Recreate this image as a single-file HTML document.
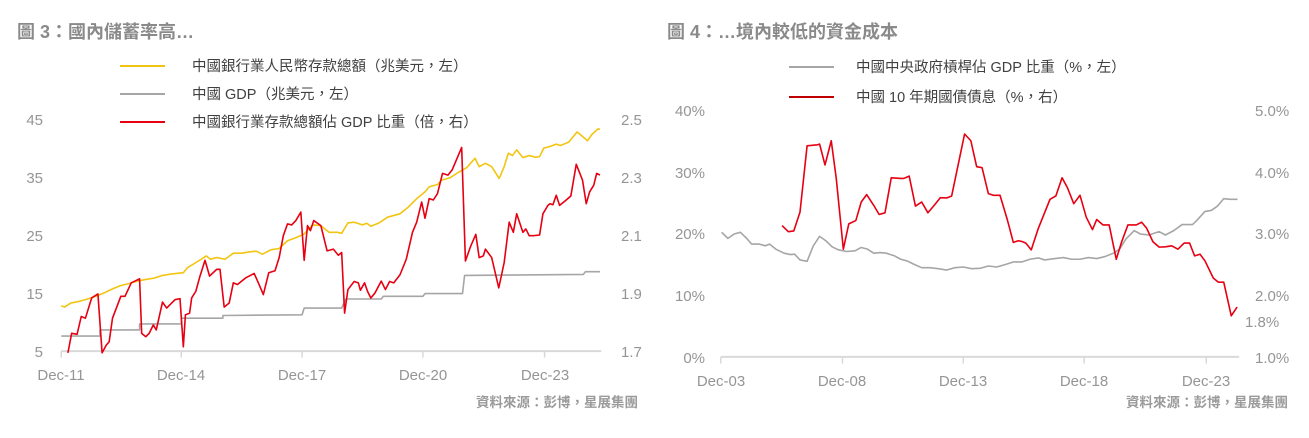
<!DOCTYPE html>
<html><head><meta charset="utf-8"><style>
html,body{margin:0;padding:0;background:#fff;}
svg{display:block;font-family:"Liberation Sans","Noto Sans CJK TC",sans-serif;}
.t{font-size:18px;font-weight:bold;fill:#8a8a8a;}
.lg{font-size:14.5px;fill:#404040;}
.ax{font-size:15px;fill:#959595;}
.src{font-size:13.5px;fill:#9a9a9a;font-weight:bold;}
</style></head><body>
<svg width="1309" height="438" viewBox="0 0 1309 438">
<rect width="1309" height="438" fill="#fff"/>
<!-- LEFT CHART -->
<text class="t" x="17" y="38">圖 3：國內儲蓄率高…</text>
<line x1="120" y1="66" x2="165" y2="66" stroke="#f2c511" stroke-width="2"/>
<text class="lg" x="192" y="71">中國銀行業人民幣存款總額（兆美元，左）</text>
<line x1="120" y1="94" x2="165" y2="94" stroke="#a6a6a6" stroke-width="2"/>
<text class="lg" x="192" y="99">中國 GDP（兆美元，左）</text>
<line x1="120" y1="122" x2="165" y2="122" stroke="#e60012" stroke-width="2"/>
<text class="lg" x="192" y="127">中國銀行業存款總額佔 GDP 比重（倍，右）</text>
<g class="ax" text-anchor="end">
<text x="43" y="125">45</text><text x="43" y="183">35</text><text x="43" y="241">25</text><text x="43" y="299">15</text><text x="43" y="357">5</text>
</g>
<g class="ax">
<text x="621" y="125">2.5</text><text x="621" y="183">2.3</text><text x="621" y="241">2.1</text><text x="621" y="299">1.9</text><text x="621" y="357">1.7</text>
</g>
<g class="ax" text-anchor="middle">
<text x="61" y="380">Dec-11</text><text x="181" y="380">Dec-14</text><text x="302" y="380">Dec-17</text><text x="423" y="380">Dec-20</text><text x="545" y="380">Dec-23</text>
</g>
<text class="src" x="638" y="407" text-anchor="end">資料來源：彭博，星展集團</text>
<g transform="scale(0.41667,0.3367)" fill="none" stroke-linejoin="round">
<polyline vector-effect="non-scaling-stroke" stroke="#d9d9d9" stroke-width="2" points="147,1043 1443,1043"/>
<path vector-effect="non-scaling-stroke" stroke="#d9d9d9" stroke-width="1.5" d="M147,1043V1062M435,1043V1062M725,1043V1062M1015,1043V1062M1307,1043V1062"/>
<polyline vector-effect="non-scaling-stroke" stroke="#f2c511" stroke-width="1.6" points="147,908 155,912 170,900 190,895 210,888 230,880 250,870 270,858 290,848 310,842 330,835 350,830 370,826 390,818 410,814 440,810 450,795 470,780 495,760 505,770 520,765 540,770 560,752 580,752 600,748 615,746 630,755 650,742 670,738 690,715 710,706 730,695 750,668 770,670 790,690 810,690 820,693 835,662 850,660 870,668 880,663 890,672 910,662 930,645 960,635 980,615 1000,590 1020,570 1030,555 1050,548 1060,535 1080,528 1100,512 1120,498 1140,470 1150,495 1165,485 1180,495 1198,530 1210,495 1220,455 1230,462 1240,445 1255,468 1270,462 1285,467 1295,465 1305,440 1320,435 1335,428 1345,432 1365,422 1385,392 1395,402 1410,418 1420,400 1435,383 1440,384"/>
<polyline vector-effect="non-scaling-stroke" stroke="#a6a6a6" stroke-width="1.6" points="147,998 240,998 240,980 335,980 335,962 435,962 435,945 535,945 535,937 725,935 730,915 820,915 830,888 915,888 920,880 1015,880 1020,872 1110,872 1115,818 1400,815 1405,807 1440,807"/>
<polyline vector-effect="non-scaling-stroke" stroke="#e60012" stroke-width="1.6" points="163,1048 172,990 185,993 195,940 205,945 220,885 235,873 245,1048 255,1025 262,1015 270,945 290,880 300,880 315,840 335,828 340,990 350,1000 358,990 368,965 375,980 390,897 400,915 420,890 432,887 440,1030 445,935 455,930 460,885 470,865 480,820 492,773 503,820 520,800 528,800 538,912 550,900 560,840 570,845 590,825 610,812 620,840 632,875 645,810 660,804 670,765 680,700 690,665 700,668 710,655 722,630 730,773 738,670 745,685 753,655 770,670 785,745 800,740 812,758 820,750 827,930 835,860 850,836 860,840 865,862 875,840 882,865 890,885 900,870 915,835 925,860 935,836 945,840 960,816 975,770 990,690 1000,660 1012,600 1020,648 1030,590 1040,594 1050,575 1062,515 1075,520 1085,505 1108,438 1117,775 1130,730 1142,696 1150,765 1160,760 1165,740 1180,765 1197,855 1210,780 1222,660 1232,690 1240,635 1255,690 1262,680 1270,700 1280,700 1295,698 1303,635 1315,610 1320,605 1327,608 1335,580 1343,610 1355,598 1370,582 1383,488 1398,535 1407,605 1415,570 1425,550 1432,515 1440,520"/>
</g>
<!-- RIGHT CHART -->
<text class="t" x="667" y="38">圖 4：…境內較低的資金成本</text>
<line x1="789" y1="67" x2="834" y2="67" stroke="#a6a6a6" stroke-width="2"/>
<text class="lg" x="856" y="72">中國中央政府槓桿佔 GDP 比重（%，左）</text>
<line x1="789" y1="97" x2="834" y2="97" stroke="#c00000" stroke-width="2"/>
<text class="lg" x="856" y="102">中國 10 年期國債債息（%，右）</text>
<g class="ax" text-anchor="end">
<text x="705" y="116">40%</text><text x="705" y="178">30%</text><text x="705" y="239">20%</text><text x="705" y="301">10%</text><text x="705" y="363">0%</text>
</g>
<g class="ax">
<text x="1255" y="116">5.0%</text><text x="1255" y="178">4.0%</text><text x="1255" y="239">3.0%</text><text x="1255" y="301">2.0%</text><text x="1255" y="363">1.0%</text>
<text x="1245" y="327">1.8%</text>
</g>
<g class="ax" text-anchor="middle">
<text x="721" y="386">Dec-03</text><text x="842" y="386">Dec-08</text><text x="963" y="386">Dec-13</text><text x="1084" y="386">Dec-18</text><text x="1206" y="386">Dec-23</text>
</g>
<text class="src" x="1288" y="407" text-anchor="end">資料來源：彭博，星展集團</text>
<g transform="translate(655,0) scale(0.41667,0.3367)" fill="none" stroke-linejoin="round">
<polyline vector-effect="non-scaling-stroke" stroke="#d9d9d9" stroke-width="2" points="158,1060 1402,1060"/>
<path vector-effect="non-scaling-stroke" stroke="#d9d9d9" stroke-width="1.5" d="M158,1060V1080M450,1060V1080M740,1060V1080M1030,1060V1080M1323,1060V1080"/>
<polyline vector-effect="non-scaling-stroke" stroke="#a6a6a6" stroke-width="1.6" points="160,690 175,708 190,695 205,690 220,708 232,725 250,725 265,730 275,725 290,740 310,752 325,756 335,755 348,772 365,776 380,730 395,702 410,715 425,733 440,742 460,747 480,745 495,735 510,740 525,752 540,750 555,752 575,760 590,770 605,775 620,784 640,795 660,795 680,798 700,802 720,795 740,793 760,798 780,797 800,790 820,793 840,786 860,778 880,778 900,770 920,766 935,772 960,768 980,765 1000,770 1020,770 1040,765 1060,768 1080,762 1100,752 1115,740 1130,710 1150,685 1165,695 1185,698 1210,688 1225,698 1245,685 1265,667 1290,667 1300,655 1320,628 1335,625 1350,612 1365,590 1380,592 1398,592"/>
<polyline vector-effect="non-scaling-stroke" stroke="#e60012" stroke-width="1.6" points="305,670 320,688 333,686 348,630 365,433 390,430 395,428 408,490 423,418 435,530 452,740 465,665 482,655 495,600 508,578 525,610 538,637 552,632 567,528 590,530 597,530 610,523 625,612 640,600 655,632 670,610 685,587 700,588 712,582 743,398 758,418 772,495 785,498 800,575 812,580 828,580 845,650 860,720 872,715 880,717 890,722 903,742 920,678 935,632 948,592 962,582 977,528 990,558 1005,605 1020,580 1035,645 1050,682 1060,652 1075,668 1090,668 1107,770 1120,718 1135,668 1155,668 1168,660 1180,678 1195,718 1210,734 1225,733 1240,730 1255,740 1270,722 1283,722 1295,760 1308,755 1320,775 1340,826 1352,838 1365,838 1383,938 1397,912"/>
</g>
</svg>
</body></html>
